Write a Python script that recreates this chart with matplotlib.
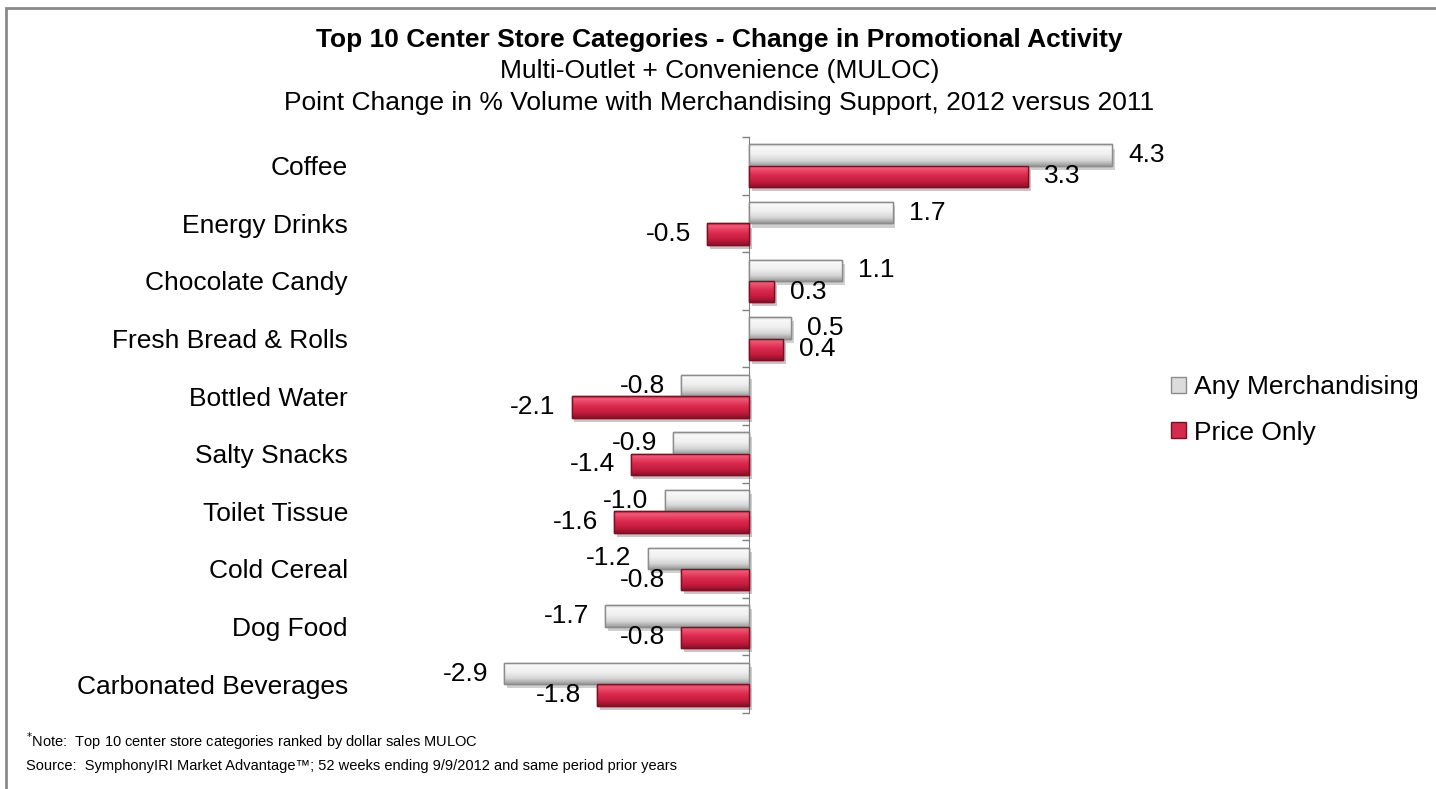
import numpy as np
import matplotlib
matplotlib.use("Agg")
import matplotlib.pyplot as plt
import matplotlib.patheffects as pe
from matplotlib.colors import LinearSegmentedColormap
from matplotlib.patches import Patch, Rectangle

plt.rcParams['font.family'] = ['Liberation Sans', 'DejaVu Sans']

categories = ["Coffee", "Energy Drinks", "Chocolate Candy", "Fresh Bread & Rolls", "Bottled Water",
              "Salty Snacks", "Toilet Tissue", "Cold Cereal", "Dog Food", "Carbonated Beverages"]
any_merch = [4.3, 1.7, 1.1, 0.5, -0.8, -0.9, -1.0, -1.2, -1.7, -2.9]
price_only = [3.3, -0.5, 0.3, 0.4, -2.1, -1.4, -1.6, -0.8, -0.8, -1.8]
series_names = ["Any Merchandising", "Price Only"]

FS = 19

# vertical gradients, top -> bottom
gray_cmap = LinearSegmentedColormap.from_list(
    "gray_bevel", [(0.0, "#c4c4c4"), (0.12, "#f8f8f8"), (0.45, "#f0f0f0"), (0.75, "#d6d6d6"), (1.0, "#9a9a9a")])
red_cmap = LinearSegmentedColormap.from_list(
    "red_bevel", [(0.0, "#b8203e"), (0.12, "#f25a78"), (0.45, "#dc2a4e"), (0.75, "#c41c3e"), (1.0, "#8e1228")])

fig = plt.figure(figsize=(14.36, 7.89), dpi=100)
W, H = 1436, 789
ax = fig.add_axes([368.75 / W, 1 - 713 / H, (1171.5 - 368.75) / W, (713 - 137) / H])

y = np.arange(len(categories))
bh = 0.37


def gradient_bars(vals, offset, cmap, base, edge):
    bars = ax.barh(y + offset, vals, height=bh, color=base, edgecolor=edge, linewidth=1.0, zorder=2,
                   path_effects=[pe.SimplePatchShadow(offset=(2, -3), alpha=0.25), pe.Normal()])
    grad = np.linspace(0, 1, 64).reshape(-1, 1)
    for r in bars:
        x0, y0, w, h = r.get_x(), r.get_y(), r.get_width(), r.get_height()
        im = ax.imshow(grad, cmap=cmap, aspect='auto', interpolation='bilinear',
                       extent=(x0, x0 + w, y0 + h, y0), origin='upper', zorder=3)
        im.set_clip_path(r)
    ax.barh(y + offset, vals, height=bh, facecolor='none', edgecolor=edge, linewidth=1.0, zorder=4)
    for v, yy in zip(vals, y + offset):
        ax.annotate(f"{v:.1f}", xy=(v, yy), xytext=(11.5 if v >= 0 else -11.5, 0),
                    textcoords='offset points', ha='left' if v >= 0 else 'right', va='center',
                    fontsize=FS, color='black', zorder=5)
    return bars


gradient_bars(any_merch, -bh / 2, gray_cmap, "#e0e0e0", "#8c8c8c")
gradient_bars(price_only, bh / 2, red_cmap, "#d42a4e", "#7a1024")

ax.set_xlim(-4.5, 5.0)
ax.set_ylim(len(categories) - 0.5, -0.5)
for s in ax.spines.values():
    s.set_visible(False)
ax.set_xticks([])
ax.set_yticks(y)
ax.set_yticklabels(categories, fontsize=FS)
ax.tick_params(axis='y', length=0, pad=15)

# category axis crossing at zero
xmin, xmax = ax.get_xlim()
sec = ax.secondary_yaxis((0 - xmin) / (xmax - xmin))
sec.set_yticks(np.arange(len(categories) + 1) - 0.5)
sec.set_yticklabels([])
sec.tick_params(axis='y', direction='out', length=5, color='#808080', width=1)
sec.spines['left'].set_color('#808080')

# titles
fig.text(0.501, 1 - 40 / H, "Top 10 Center Store Categories - Change in Promotional Activity",
         ha='center', va='center', fontsize=FS, fontweight='bold')
fig.text(0.501, 1 - 71 / H, "Multi-Outlet + Convenience (MULOC)", ha='center', va='center', fontsize=FS)
fig.text(0.501, 1 - 103 / H, "Point Change in % Volume with Merchandising Support, 2012 versus 2011",
         ha='center', va='center', fontsize=FS)

# legend
handles = [Patch(facecolor="#dcdcdc", edgecolor="#8c8c8c"), Patch(facecolor="#d42a4e", edgecolor="#7a1024")]
fig.legend(handles, series_names, loc='center left', bbox_to_anchor=(1147 / W, 1 - 410 / H),
           frameon=False, fontsize=FS, handlelength=0.57, handleheight=0.57, handletextpad=0.3,
           labelspacing=0.8)

# footnotes
fig.text(26 / W, 1 - 741 / H, r"$^{*}$Note:  Top 10 center store categories ranked by dollar sales MULOC",
         ha='left', va='center', fontsize=10.5)
fig.text(26 / W, 1 - 766 / H,
         "Source:  SymphonyIRI Market Advantage\u2122; 52 weeks ending 9/9/2012 and same period prior years",
         ha='left', va='center', fontsize=10.5)

# outer frame
fig.add_artist(Rectangle((6 / W, -0.1), 1.2, 1 - 8 / H + 0.1, transform=fig.transFigure,
                         facecolor='none', edgecolor='#8a8a8a', linewidth=2))

fig.savefig("out.png", dpi=100)
